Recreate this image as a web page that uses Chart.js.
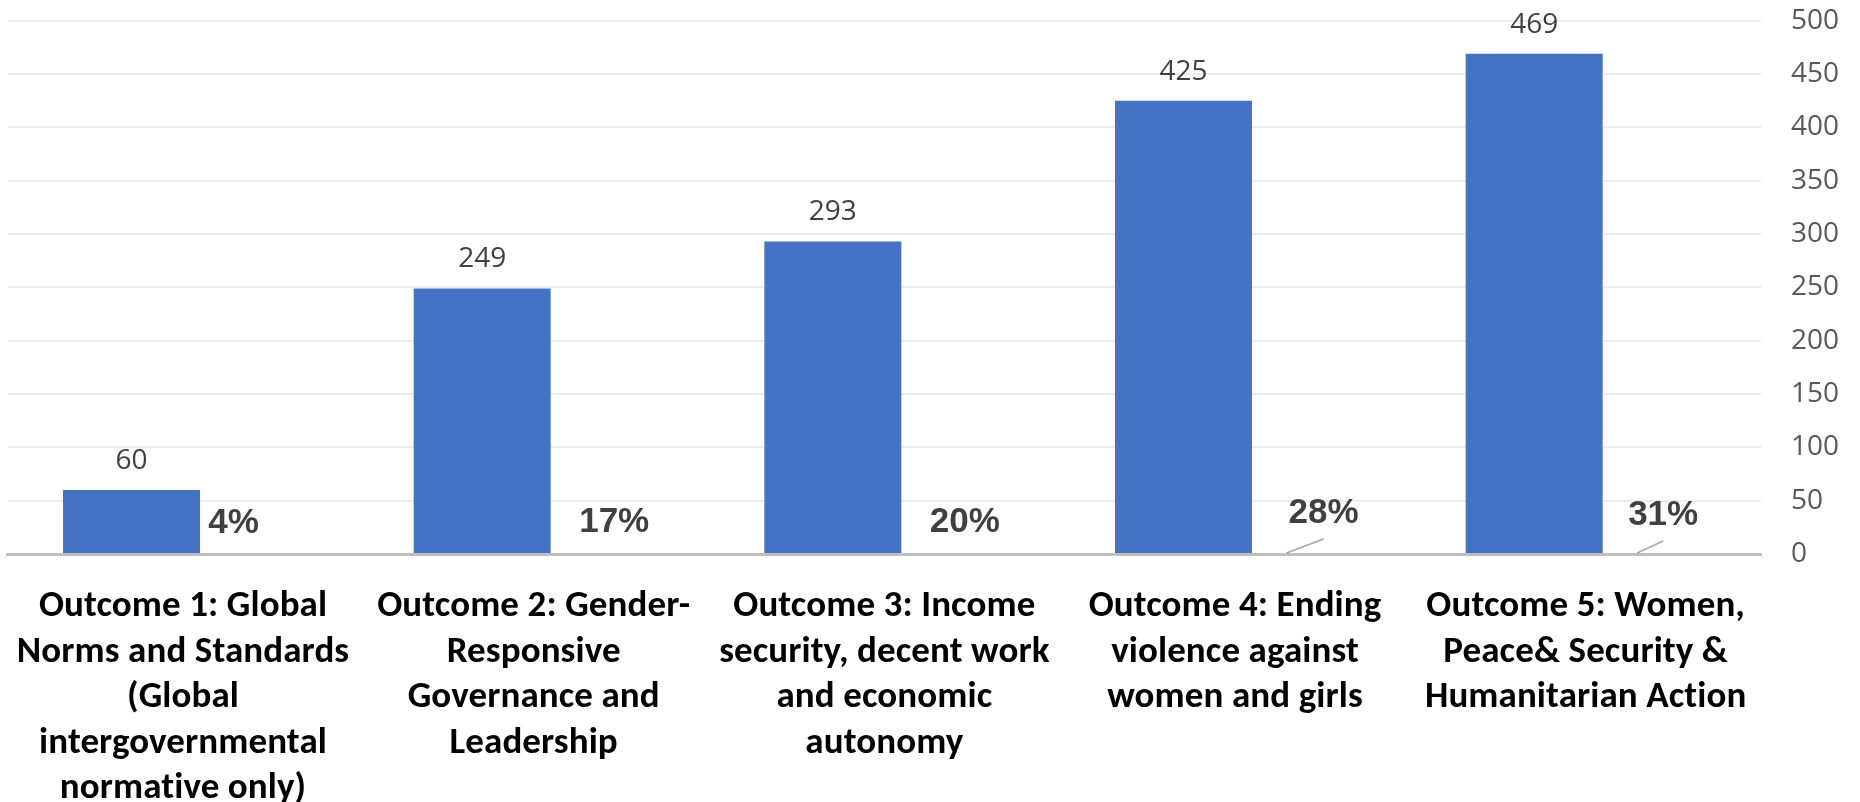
<!DOCTYPE html>
<html>
<head>
<meta charset="utf-8">
<script src="https://cdn.jsdelivr.net/npm/chart.js@4/dist/chart.umd.min.js"></script>
<style>
  html, body { margin: 0; padding: 0; background: #ffffff; }
  #wrap { width: 1860px; height: 802px; position: relative; }
</style>
</head>
<body>
<div id="wrap"><canvas id="chart"></canvas></div>
<script>
// Outcome names, one entry per line of the axis label
const categories = [
  ['Outcome 1: Global', 'Norms and Standards', '(Global', 'intergovernmental', 'normative only)'],
  ['Outcome 2: Gender-', 'Responsive', 'Governance and', 'Leadership'],
  ['Outcome 3: Income', 'security, decent work', 'and economic', 'autonomy'],
  ['Outcome 4: Ending', 'violence against', 'women and girls'],
  ['Outcome 5: Women,', 'Peace& Security &', 'Humanitarian Action']
];
// Number of results per outcome
const counts = [60, 249, 293, 425, 469];
// Share of all results, in percent
const sharePct = [4, 17, 20, 28, 31];
// Right-hand axis ticks
const yTickValues = [0, 50, 100, 150, 200, 250, 300, 350, 400, 450, 500];

// Placement of the share labels relative to the foot of their slot (px)
const shareLabelNudge = [[-1, -31], [29, -32], [29, -32], [37, -41], [26, -39]];
const shareLeader = [false, false, false, true, true];

const BLUE = '#4472C4';

const labelsPlugin = {
  id: 'outcomeLabels',
  afterDraw(chart) {
    const ctx = chart.ctx;
    const xs = chart.scales.x;
    const base = chart.scales.y.getPixelForValue(0);

    // count above each bar
    const countMeta = chart.getDatasetMeta(0);
    ctx.save();
    ctx.font = '28px "Open Sans", "Noto Sans", sans-serif';
    ctx.fillStyle = '#404040';
    ctx.textAlign = 'center';
    ctx.textBaseline = 'middle';
    countMeta.data.forEach((bar, i) => {
      ctx.fillText(String(counts[i]), bar.x, bar.y - 29);
    });
    ctx.restore();

    // share labels next to the bars, with leader lines where moved away
    const shareMeta = chart.getDatasetMeta(1);
    ctx.save();
    shareMeta.data.forEach((bar, i) => {
      const [dx, dy] = shareLabelNudge[i];
      const lx = bar.x + dx;
      const ly = base + dy;
      if (shareLeader[i]) {
        ctx.beginPath();
        ctx.strokeStyle = '#a6a6a6';
        ctx.lineWidth = 1.5;
        ctx.moveTo(bar.x, base - 1);
        ctx.lineTo(lx, ly + 26);
        ctx.stroke();
      }
      ctx.font = 'bold 35px "Liberation Sans", Arial, sans-serif';
      ctx.fillStyle = '#404040';
      ctx.textAlign = 'center';
      ctx.textBaseline = 'middle';
      ctx.fillText(sharePct[i] + '%', lx, ly);
    });
    ctx.restore();

    // category names under the axis (plain glyphs, no ligatures)
    ctx.save();
    ctx.font = 'bold 37px Carlito, Lato, sans-serif';
    if ('textRendering' in ctx) ctx.textRendering = 'optimizeSpeed';
    if ('letterSpacing' in ctx) ctx.letterSpacing = '0.1px';
    ctx.fillStyle = '#000000';
    ctx.textAlign = 'center';
    ctx.textBaseline = 'alphabetic';
    categories.forEach((lines, i) => {
      const cx = xs.getPixelForValue(i);
      lines.forEach((line, j) => {
        ctx.fillText(line, cx, base + 62 + j * 45.5);
      });
    });
    ctx.restore();
  }
};

new Chart(document.getElementById('chart'), {
  type: 'bar',
  data: {
    labels: categories,
    datasets: [
      {
        label: 'Results',
        data: counts,
        backgroundColor: BLUE,
        borderWidth: 0,
        yAxisID: 'y',
        categoryPercentage: 0.5875,
        barPercentage: 1.33
      },
      {
        label: 'Share',
        data: sharePct,
        backgroundColor: 'rgba(0,0,0,0)',
        borderWidth: 0,
        yAxisID: 'yShare',
        categoryPercentage: 0.5875,
        barPercentage: 1.33
      }
    ]
  },
  options: {
    responsive: true,
    maintainAspectRatio: false,
    animation: false,
    events: [],
    layout: {
      padding: { left: 7.7, top: 20.7, right: 0, bottom: 0 }
    },
    plugins: {
      legend: { display: false },
      tooltip: { enabled: false },
      title: { display: false }
    },
    scales: {
      x: {
        type: 'category',
        offset: true,
        z: 1,
        grid: { display: false, drawTicks: false },
        border: { display: true, color: '#bfbfbf', width: 3 },
        ticks: { display: false },
        afterFit(scale) { scale.height = 248; }
      },
      y: {
        position: 'right',
        min: 0,
        max: 500,
        grid: {
          color: '#ededed',
          lineWidth: 2,
          drawTicks: true,
          tickLength: 30,
          tickColor: 'rgba(0,0,0,0)'
        },
        border: { display: false },
        ticks: {
          padding: 0,
          color: '#595959',
          font: { family: '"Open Sans", "Noto Sans", sans-serif', size: 28 }
        },
        afterBuildTicks(scale) {
          scale.ticks = yTickValues.map(v => ({ value: v }));
        },
        afterFit(scale) { scale.width = 99; }
      },
      yShare: {
        display: false,
        min: 0,
        max: 100
      }
    }
  },
  plugins: [labelsPlugin]
});
</script>
</body>
</html>
